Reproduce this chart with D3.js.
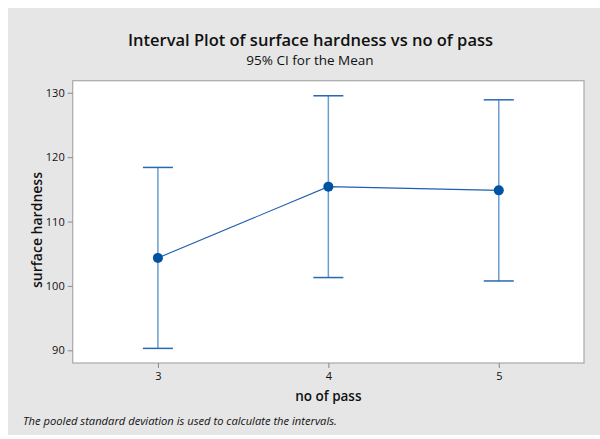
<!DOCTYPE html>
<html>
<head>
<meta charset="utf-8">
<script src="https://cdn.jsdelivr.net/npm/d3@7"></script>
<style>
body{margin:0;background:#fff;}
text{font-family:"Open Sans",sans-serif;fill:#111;}
</style>
</head>
<body>
<div id="plot"></div>
<script>
// data
var passes = [3, 4, 5];
var means = [104.35, 115.42, 114.84];
var lower = [90.3, 101.3, 100.77];
var upper = [118.4, 129.53, 128.9];
var yTicks = [90, 100, 110, 120, 130];

var W = 600, H = 439;
var margin = {t:80.7, r:16, b:76, l:72.7};
var width = W - margin.l - margin.r,
    height = H - margin.t - margin.b;

var svg = d3.select('#plot')
    .append('svg')
    .attr('width', W)
    .attr('height', H);

// grey background panel
svg.append('rect')
    .attr('x', 8).attr('y', 8)
    .attr('width', W - 8).attr('height', 427)
    .attr('fill', '#e6e6e6');

var x = d3.scaleLinear().domain([2.5, 5.5]).range([0, width]);
var y = d3.scaleLinear().domain([88.03, 131.87]).range([height, 0]);

var plot = svg.append('g')
    .attr('transform', 'translate(' + margin.l + ',' + margin.t + ')');

plot.append('rect')
    .attr('width', width).attr('height', height)
    .attr('fill', '#fff')
    .attr('stroke', '#a8a8a8')
    .attr('stroke-width', 1.2);

// axes
var yAxis = plot.append('g')
    .call(d3.axisLeft(y).tickValues(yTicks).tickSize(5).tickPadding(3));
var xAxis = plot.append('g')
    .attr('transform', 'translate(0,' + height + ')')
    .call(d3.axisBottom(x).tickValues(passes).tickSize(5).tickPadding(4).tickFormat(d3.format('d')));
[yAxis, xAxis].forEach(function(a){
    a.select('.domain').remove();
    a.selectAll('line').attr('stroke', '#8a8a8a');
    a.selectAll('text').style('font-size', '11px').attr('fill', '#111');
});

// interval bars
var capW = 15;
passes.forEach(function(p, i){
    plot.append('line')
        .attr('x1', x(p)).attr('x2', x(p))
        .attr('y1', y(upper[i])).attr('y2', y(lower[i]))
        .attr('stroke', '#6a9dd2').attr('stroke-width', 1.5);
    [upper[i], lower[i]].forEach(function(v){
        plot.append('line')
            .attr('x1', x(p) - capW).attr('x2', x(p) + capW)
            .attr('y1', y(v)).attr('y2', y(v))
            .attr('stroke', '#2a67b4').attr('stroke-width', 1.5);
    });
});

// mean connect line
var line = d3.line()
    .x(function(d, i){ return x(passes[i]); })
    .y(function(d){ return y(d); });
plot.append('path')
    .datum(means)
    .attr('d', line)
    .attr('fill', 'none')
    .attr('stroke', '#1f5fae')
    .attr('stroke-width', 1.1);

plot.selectAll('circle')
    .data(means)
    .enter()
    .append('circle')
    .attr('cx', function(d, i){ return x(passes[i]); })
    .attr('cy', function(d){ return y(d); })
    .attr('r', 5)
    .attr('fill', '#0052a3');

// titles
svg.append('text')
    .attr('x', 310.5).attr('y', 46)
    .attr('text-anchor', 'middle')
    .style('font-size', '16.5px')
    .style('font-weight', '600')
    .text('Interval Plot of surface hardness vs no of pass');
svg.append('text')
    .attr('x', 310).attr('y', 64.5)
    .attr('text-anchor', 'middle')
    .style('font-size', '13.5px')
    .text('95% CI for the Mean');

svg.append('text')
    .attr('transform', 'translate(42,230) rotate(-90)')
    .attr('text-anchor', 'middle')
    .style('font-size', '14px')
    .style('font-weight', '600')
    .text('surface hardness');
svg.append('text')
    .attr('x', margin.l + x(4)).attr('y', 401)
    .attr('text-anchor', 'middle')
    .style('font-size', '13.5px')
    .style('font-weight', '600')
    .text('no of pass');

svg.append('text')
    .attr('x', 23).attr('y', 425)
    .style('font-size', '11.2px')
    .style('font-style', 'italic')
    .text('The pooled standard deviation is used to calculate the intervals.');
</script>
</body>
</html>
